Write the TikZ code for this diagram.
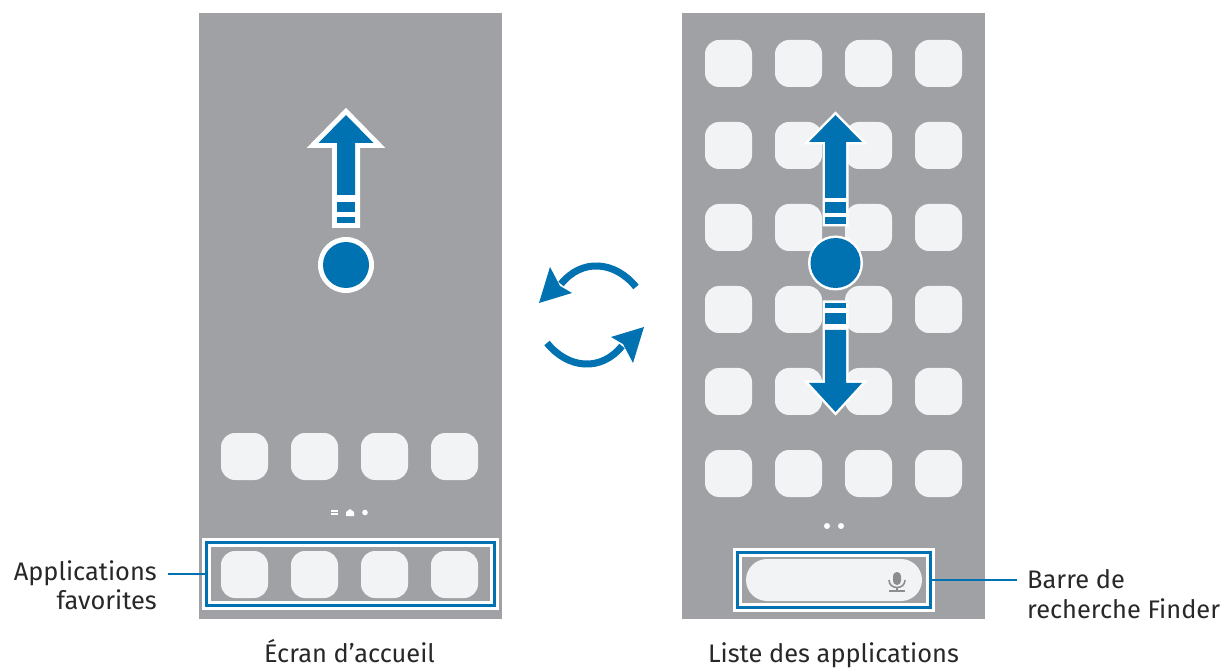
\documentclass[tikz,border=0pt]{standalone}
\usepackage{fontspec}
\setmainfont{Fira Sans}
\definecolor{scr}{RGB}{160,161,165}
\definecolor{ico}{RGB}{242,243,245}
\definecolor{sblue}{RGB}{0,114,178}
\definecolor{txt}{RGB}{40,40,40}
\definecolor{micg}{RGB}{140,141,145}
\begin{document}
\begin{tikzpicture}[x=1pt,y=-1pt,
  icon/.style={fill=ico, rounded corners=14pt},
  frame/.style={preaction={draw=white, line width=9pt}, draw=sblue, line width=3pt, minimum width=#1, inner sep=0pt},
  lab/.style={font=\fontsize{25.4}{29.5}\selectfont, text=txt},
  lead/.style={draw=sblue, line width=2pt},
  outl/.style={draw=white, fill=white, line join=miter, line width=#1}]
\useasboundingbox (0,0) rectangle (1227,668);
\fill[white] (0,0) rectangle (1227,668);
% screens
\fill[scr] (199,13) rectangle (502,619);
\fill[scr] (682,13) rectangle (985,619);
% home screen icons
\foreach \x in {221,291,361,431} {
  \fill[icon] (\x,433) rectangle ++(47,47);
  \fill[icon] (\x,551) rectangle ++(47,47);
}
% page indicator home
\fill[white] (331,510) rectangle (338,511.6);
\fill[white] (331,513.4) rectangle (338,515);
\fill[white] (346,516) -- (346,512) -- (350,509) -- (354,512) -- (354,516) -- cycle;
\fill[white] (365,512.5) circle (2.8pt);
% dock frame
\node[frame=288pt, minimum height=63pt] (dock) at (350,573.5) {};
% apps list icons
\foreach \x in {705,775,845,915} {
  \foreach \y in {40,122,204,286,368,450} {
    \fill[icon] (\x,\y) rectangle ++(47,47);
  }
}
\fill[white] (827,526) circle (3pt);
\fill[white] (841,526) circle (3pt);
% search bar
\fill[ico, rounded corners=21pt] (746,559) rectangle (922,601);
\fill[micg, rounded corners=4pt] (893,572) rectangle (901,585);
\draw[micg, line width=1.6pt] (889,580) .. controls (889,590) and (905,590) .. (905,580);
\draw[micg, line width=1.6pt] (897,588) -- (897,591);
\draw[micg, line width=1.6pt] (889,591) -- (905,591);
\node[frame=193pt, minimum height=55pt] (sbar) at (833.5,579.5) {};
% left swipe arrow
\path[outl=10pt] (346,115) -- (373.5,143) -- (355,143) -- (355,223) -- (337,223) -- (337,143) -- (318.5,143) -- cycle;
\fill[sblue] (346,115) -- (373.5,143) -- (355,143) -- (355,195) -- (337,195) -- (337,143) -- (318.5,143) -- cycle;
\fill[sblue] (337,202) rectangle (355,212);
\fill[sblue] (337,217) rectangle (355,223);
\fill[white] (346,265) circle (28pt);
\fill[sblue] (346,265) circle (23pt);
% right swipe arrows
\path[outl=5pt] (835.5,115) -- (862,142) -- (846,142) -- (846,224) -- (825,224) -- (825,142) -- (809,142) -- cycle;
\fill[sblue] (835.5,115) -- (862,142) -- (846,142) -- (846,198) -- (825,198) -- (825,142) -- (809,142) -- cycle;
\fill[sblue] (825,202) rectangle (846,213);
\fill[sblue] (825,217) rectangle (846,224);
\fill[white] (835.5,263) circle (27.5pt);
\fill[sblue] (835.5,263) circle (25pt);
\path[outl=5pt] (835.5,412) -- (862,383) -- (846,383) -- (846,303) -- (825,303) -- (825,383) -- (809,383) -- cycle;
\fill[sblue] (835.5,412) -- (862,383) -- (846,383) -- (846,330) -- (825,330) -- (825,383) -- (809,383) -- cycle;
\fill[sblue] (825,303) rectangle (846,308);
\fill[sblue] (825,313) rectangle (846,324);
% switch arrows
\foreach \r in {0,180} {
  \begin{scope}[rotate around={\r:(591.5,315)}]
    \draw[sblue, line width=7pt] (636,287) .. controls (615,261) and (582,258) .. (561,284);
    \fill[sblue] (550,267) -- (539,303) -- (572,293) -- (560,286) -- cycle;
  \end{scope}
}
% labels
\node[lab, align=right, anchor=east, inner xsep=11pt, inner ysep=0pt] (favl) at (168,585) {Applications\\favorites};
\draw[lead] (dock.west) -- (favl.east |- dock.west);
\node[lab, align=left, anchor=west, inner xsep=10pt, inner ysep=0pt] (finl) at (1017,594) {Barre de\\recherche Finder};
\draw[lead] (sbar.east) -- (finl.west |- sbar.east);
\node[lab, anchor=base] (cap1) at (349.5,662) {Écran d’accueil};
\node[lab, anchor=base] (cap2) at (833.5,662) {Liste des applications};
\end{tikzpicture}
\end{document}
